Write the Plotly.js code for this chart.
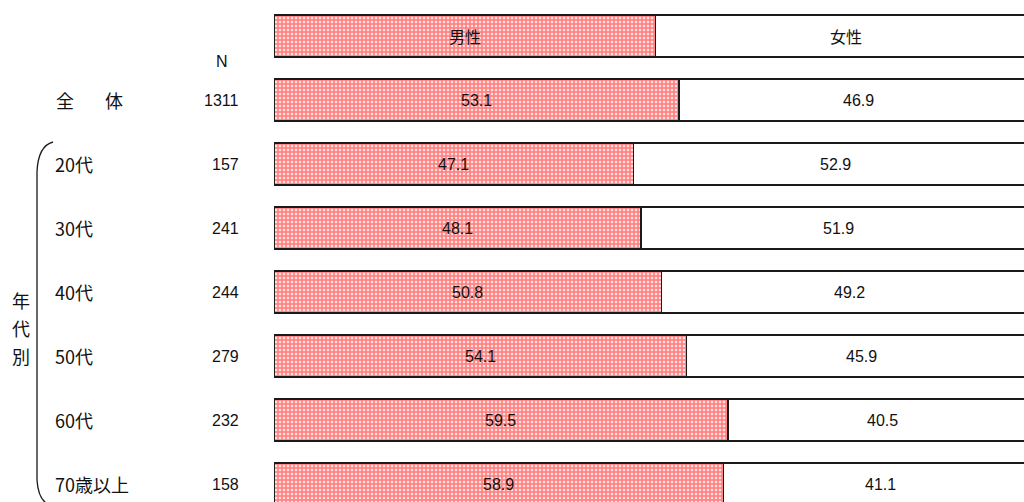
<!DOCTYPE html>
<html>
<head>
<meta charset="utf-8">
<script src="https://cdn.plot.ly/plotly-3.0.1.min.js"></script>
<style>html,body{margin:0;padding:0;background:#fff;}#chart{width:1024px;height:502px;}</style>
</head>
<body>
<div id="chart"></div>
<script>
// ---- data ----
const categories = ["header", "全体", "20代", "30代", "40代", "50代", "60代", "70歳以上"];
const rowLabels = ["", "全体", "20代", "30代", "40代", "50代", "60代", "70歳以上"];
const nValues = ["", "1311", "157", "241", "244", "279", "232", "158"];
const maleValues = [50, 53.1, 47.1, 48.1, 50.8, 54.1, 59.5, 58.9];
const femaleValues = [50, 46.9, 52.9, 51.9, 49.2, 45.9, 40.5, 41.1];
const headerLabels = ["男性", "女性"];
const groupLabel = ["年", "代", "別"];

// ---- layout helpers ----
const W = 1024, H = 502, L = 274;
const px = x => (x - L) / (W - L);      // pixel -> paper x
const py = y => 1 - y / H;              // pixel -> paper y

const lineStyle = {color: "#1a1a1a", width: 1.3};
const male = {
  type: "bar", orientation: "h", y: categories, x: maleValues,
  width: 0.656,
  marker: {color: "#ff9a9a", line: lineStyle,
    pattern: {shape: ".", bgcolor: "#ff8585", fgcolor: "#ffe4e4", size: 4, solidity: 0.3}},
  hoverinfo: "none", textposition: "none"
};
const female = {
  type: "bar", orientation: "h", y: categories, x: femaleValues,
  width: 0.656,
  marker: {color: "#ffffff", line: lineStyle},
  hoverinfo: "none", textposition: "none"
};

const annotations = [];
const numFont = {family: "Liberation Sans, Arial, sans-serif", size: 16, color: "#111"};
const cjkFont = {family: "Noto Sans CJK JP, sans-serif", size: 16, color: "#111"};
const labelFont = {family: "Noto Sans CJK JP, sans-serif", size: 18, color: "#111"};
const nFont = {family: "Liberation Sans, Arial, sans-serif", size: 16, color: "#111"};
function ann(o) {
  annotations.push(Object.assign({showarrow: false, xanchor: "center", yanchor: "middle"}, o));
}
categories.forEach((c, i) => {
  const m = maleValues[i], f = femaleValues[i];
  if (i === 0) {
    ann({x: m / 2, y: c, xref: "x", yref: "y", text: headerLabels[0], font: cjkFont});
    ann({x: m + f / 2, y: c, xref: "x", yref: "y", text: headerLabels[1], font: cjkFont});
  } else {
    ann({x: m / 2, y: c, xref: "x", yref: "y", text: m.toFixed(1), font: numFont});
    ann({x: m + f / 2, y: c, xref: "x", yref: "y", text: f.toFixed(1), font: numFont});
    if (i === 1) {
      const chars = Array.from(rowLabels[i]);
      ann({x: px(54), y: c, xref: "paper", yref: "y", text: chars[0], xanchor: "left", font: labelFont});
      ann({x: px(103), y: c, xref: "paper", yref: "y", text: chars[1], xanchor: "left", font: labelFont});
    } else {
      ann({x: px(53), y: c, xref: "paper", yref: "y", text: rowLabels[i], xanchor: "left", font: labelFont});
    }
    ann({x: px(241), y: c, xref: "paper", yref: "y", text: nValues[i], xanchor: "right", font: nFont});
  }
});
ann({x: px(221.5), y: py(61), xref: "paper", yref: "paper", text: "N", font: nFont});
groupLabel.forEach((t, k) => {
  ann({x: px(21), y: py(300 + k * 28), xref: "paper", yref: "paper", text: t, font: labelFont});
});

const brace = `M ${px(53)},${py(142)} Q ${px(38)},${py(146)} ${px(37)},${py(172)} L ${px(37)},${py(480)} Q ${px(38)},${py(497)} ${px(46)},${py(503)}`;

const layout = {
  width: W, height: H,
  margin: {l: L, r: 0, t: 0, b: 0, pad: 0},
  barmode: "stack", showlegend: false,
  paper_bgcolor: "#fff", plot_bgcolor: "#fff",
  xaxis: {range: [0, 98.3], visible: false, fixedrange: true},
  yaxis: {range: [7 + 18 / 64, -36 / 64], visible: false, fixedrange: true, type: "category",
          categoryorder: "array", categoryarray: categories},
  annotations: annotations,
  shapes: [{type: "path", xref: "paper", yref: "paper", path: brace, line: {color: "#1a1a1a", width: 1.3}}]
};

Plotly.newPlot("chart", [male, female], layout, {displayModeBar: false, staticPlot: true});
</script>
</body>
</html>
